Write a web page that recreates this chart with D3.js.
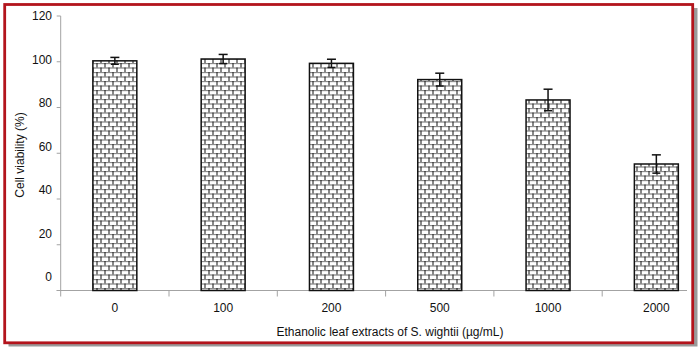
<!DOCTYPE html>
<html><head><meta charset="utf-8">
<script src="https://cdn.jsdelivr.net/npm/d3@7"></script>
<style>html,body{margin:0;padding:0;background:#fff;}svg{display:block;}</style>
</head><body>
<script>
const categories = ["0", "100", "200", "500", "1000", "2000"];
const viability = [100.4, 101.2, 99.3, 92.2, 83.3, 55.3];
const errors = [1.5, 2.0, 1.8, 2.8, 4.7, 4.0];
const yTicks = [0, 20, 40, 60, 80, 100, 120];
const xTitle = "Ethanolic leaf extracts of S. wightii (µg/mL)";
const yTitle = "Cell viability (%)";

const W = 700, H = 348;
const svg = d3.select("body").append("svg").attr("width", W).attr("height", H)
  .style("font-family", "'Liberation Sans', Arial, sans-serif");

// frame with shadow
svg.append("rect").attr("x", 8.5).attr("y", 8).attr("width", 689).attr("height", 338.5).attr("fill", "#9a9a9a");
svg.append("rect").attr("x", 4.7).attr("y", 4.5).attr("width", 688).attr("height", 338.3)
  .attr("fill", "#fff").attr("stroke", "#b3141c").attr("stroke-width", 2.8);

// brick pattern
const defs = svg.append("defs");
const pat = defs.append("pattern").attr("id", "brick").attr("patternUnits", "userSpaceOnUse")
  .attr("width", 8).attr("height", 9);
pat.append("rect").attr("width", 8).attr("height", 9).attr("fill", "#fff");
pat.append("line").attr("x1", 0).attr("x2", 8).attr("y1", 0.5).attr("y2", 0.5).attr("stroke", "#8a8a8a").attr("stroke-width", 1.3);
pat.append("line").attr("x1", 0).attr("x2", 8).attr("y1", 5).attr("y2", 5).attr("stroke", "#8a8a8a").attr("stroke-width", 1.3);
pat.append("line").attr("x1", 1).attr("x2", 1).attr("y1", 0).attr("y2", 4.5).attr("stroke", "#111").attr("stroke-width", 1);
pat.append("line").attr("x1", 5).attr("x2", 5).attr("y1", 4.5).attr("y2", 9).attr("stroke", "#111").attr("stroke-width", 1);

const x0 = 60.7, step = 108.3;
const x = d3.scaleBand().domain(categories).range([x0, x0 + step * categories.length])
  .paddingInner(0.594).paddingOuter(0.297);
const y = d3.scaleLinear().domain([0, 120]).range([290.5, 16]);
const yLab = d3.scaleLinear().domain([0, 120]).range([277, 16]);

const axisColor = "#a3a3a3";
// y axis
svg.append("line").attr("x1", x0).attr("x2", x0).attr("y1", y(120)).attr("y2", y(0))
  .attr("stroke", axisColor).attr("stroke-width", 1);
svg.selectAll(".ytick").data(yTicks).join("line")
  .attr("x1", x0 - 4).attr("x2", x0).attr("y1", d => y(d)).attr("y2", d => y(d))
  .attr("stroke", axisColor).attr("stroke-width", 1);
svg.selectAll(".ylab").data(yTicks).join("text")
  .attr("x", 52).attr("y", d => yLab(d)).attr("dy", "0.35em").attr("text-anchor", "end")
  .attr("font-size", 12).attr("fill", "#111").text(d => d);

// x axis
svg.append("line").attr("x1", x0 - 4).attr("x2", 687).attr("y1", y(0)).attr("y2", y(0))
  .attr("stroke", axisColor).attr("stroke-width", 1);
const boundaries = d3.range(categories.length).map(i => x0 + i * step);
svg.selectAll(".xtick").data(boundaries).join("line")
  .attr("x1", d => d).attr("x2", d => d).attr("y1", y(0)).attr("y2", y(0) + 6)
  .attr("stroke", axisColor).attr("stroke-width", 1);
svg.selectAll(".xlab").data(categories).join("text")
  .attr("x", d => x(d) + x.bandwidth() / 2).attr("y", 312)
  .attr("text-anchor", "middle").attr("font-size", 12).attr("fill", "#111").text(d => d);

// bars
svg.selectAll(".bar").data(categories).join("rect")
  .attr("x", d => x(d)).attr("width", x.bandwidth())
  .attr("y", (d, i) => y(viability[i])).attr("height", (d, i) => y(0) - y(viability[i]))
  .attr("fill", "url(#brick)").attr("stroke", "#111").attr("stroke-width", 1.5);

// error bars
const eb = svg.selectAll(".eb").data(categories).join("g");
eb.append("line").attr("x1", d => x(d) + x.bandwidth() / 2).attr("x2", d => x(d) + x.bandwidth() / 2)
  .attr("y1", (d, i) => y(viability[i] + errors[i])).attr("y2", (d, i) => y(viability[i] - errors[i]))
  .attr("stroke", "#111").attr("stroke-width", 1.5);
eb.append("line").attr("x1", d => x(d) + x.bandwidth() / 2 - 4.5).attr("x2", d => x(d) + x.bandwidth() / 2 + 4.5)
  .attr("y1", (d, i) => y(viability[i] + errors[i])).attr("y2", (d, i) => y(viability[i] + errors[i]))
  .attr("stroke", "#111").attr("stroke-width", 1.5);
eb.append("line").attr("x1", d => x(d) + x.bandwidth() / 2 - 4).attr("x2", d => x(d) + x.bandwidth() / 2 + 4)
  .attr("y1", (d, i) => y(viability[i] - errors[i])).attr("y2", (d, i) => y(viability[i] - errors[i]))
  .attr("stroke", "#111").attr("stroke-width", 1.5);

// titles
svg.append("text").attr("x", 390).attr("y", 336).attr("text-anchor", "middle")
  .attr("font-size", 12).attr("fill", "#111").text(xTitle);
svg.append("text").attr("transform", "translate(24,155) rotate(-90)").attr("text-anchor", "middle")
  .attr("font-size", 12).attr("fill", "#111").text(yTitle);
</script>
</body></html>
